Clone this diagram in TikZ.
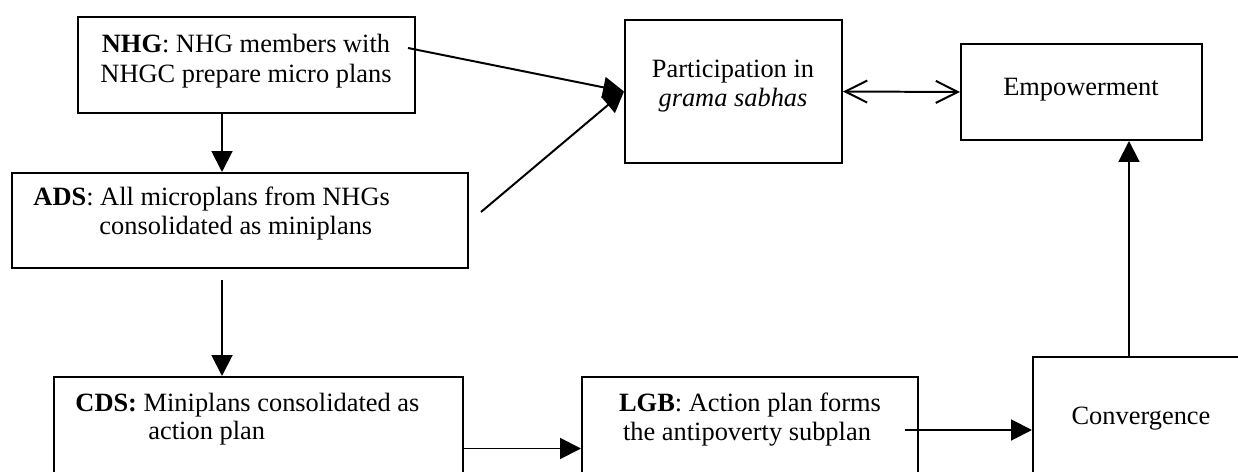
\documentclass[tikz,border=0pt]{standalone}
\usepackage{fontspec}
\setmainfont{Liberation Serif}
\usetikzlibrary{arrows.meta}
\newcommand{\pxu}{0.4545pt}
\tikzset{
  box/.style args={#1/#2}{draw, line width=0.9pt, inner sep=0pt,
    minimum width=#1*\pxu, minimum height=#2*\pxu},
  txt/.style={inner sep=0pt, font=\fontsize{12}{14}\selectfont},
  arr/.style={line width=0.9pt, -{Triangle[length=9.5pt,width=9.5pt]}},
  dbl/.style={line width=0.9pt,
    {Straight Barb[length=10pt,width=10pt]}-{Straight Barb[length=10pt,width=10pt]}}
}
\begin{document}
\begin{tikzpicture}[x=\pxu, y=-\pxu]
\clip (0,0) rectangle (1238,472);
% boxes
\node[box=337/96]  (nhg)  at (246.5,65)    {};
\node[box=456/95]  (ads)  at (240,220.5)   {};
\node[box=409/143] (cds)  at (258.5,448.5) {};
\node[box=336/143] (lgb)  at (750,448.5)   {};
\node[box=247/163] (conv) at (1156.5,438.5){};
\node[box=217/143] (part) at (733.5,91.5)  {};
\node[box=241/96]  (emp)  at (1081.5,92)   {};
% texts
\node[txt, anchor=base] (nhgA) at (246,53) {\textbf{NHG}: NHG members with};
\node[txt, anchor=base] (nhgB) at (246,83) {NHGC prepare micro plans};
\node[txt, anchor=base west] (adsA) at (33,206) {\textbf{ADS}: All microplans from NHGs};
\node[txt, anchor=base west] (adsB) at (99,235) {consolidated as miniplans};
\node[txt, anchor=base west] (cdsA) at (75,412) {\textbf{CDS:} Miniplans consolidated as};
\node[txt, anchor=base west] (cdsB) at (148,440) {action plan};
\node[txt, anchor=base] (lgbA) at (750,412) {\textbf{LGB}: Action plan forms};
\node[txt, anchor=base] (lgbB) at (747,441) {the antipoverty subplan};
\node[txt, anchor=base] (partA) at (733,78) {Participation in};
\node[txt, anchor=base] (partB) at (733,107) {\textit{grama sabhas}};
\node[txt, anchor=base] (empA) at (1081,96) {Empowerment};
\node[txt, anchor=base] (convA) at (1141,425) {Convergence};
% connector helper coordinates
\coordinate (xl) at (222,0);
\coordinate (adsout) at (222,280);
\coordinate (nhgout) at (408,48);
\coordinate (adsout2) at (481,212);
\coordinate (lgbout) at (905,430);
\coordinate (xc) at (1129,0);
% connectors
\draw[arr] (xl |- nhg.south) -- (xl |- ads.north);
\draw[arr] (adsout) -- (adsout |- cds.north);
\draw[arr] (nhgout) -- (part.west);
\draw[arr] (adsout2) -- (part.west);
\draw[dbl] (part.east) -- (emp.west);
\draw[arr] (cds.east) -- (lgb.west);
\draw[arr] (lgbout) -- (lgbout -| conv.west);
\draw[arr] (xc |- conv.north) -- (xc |- emp.south);
\end{tikzpicture}
\end{document}
